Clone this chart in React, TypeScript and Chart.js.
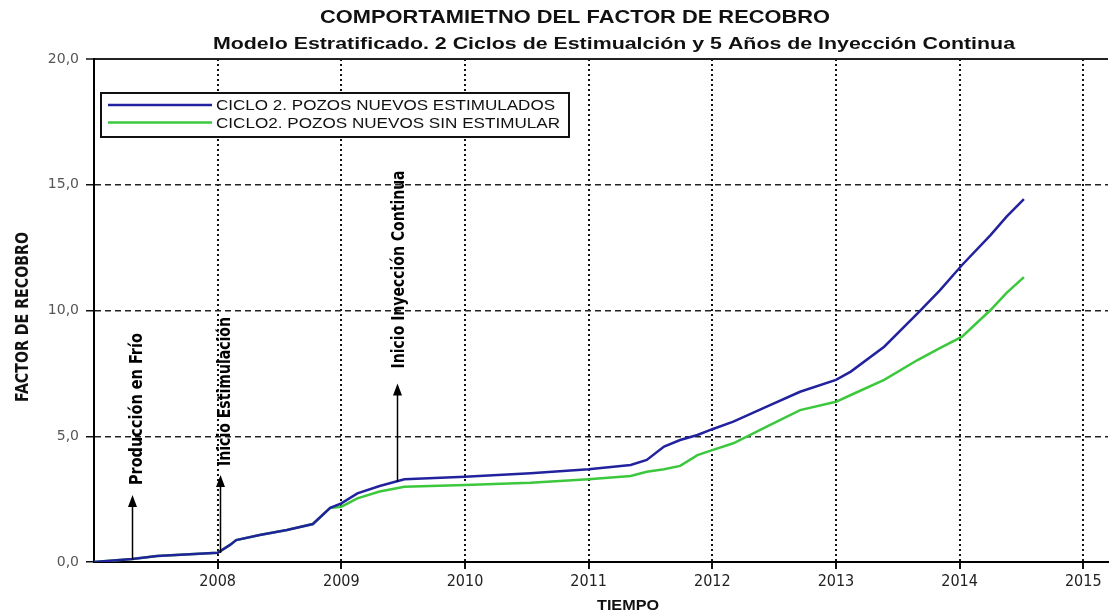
import React, { useEffect, useRef } from 'react';
import { Chart, registerables } from 'chart.js';

Chart.register(...registerables);

// ---------- data ----------
const TIME = [
  2007.0, 2007.31, 2007.51, 2008.0, 2008.1, 2008.15, 2008.34, 2008.56, 2008.77, 2008.91,
  2009.0, 2009.13, 2009.31, 2009.51, 2010.0, 2010.53, 2011.0, 2011.34, 2011.47, 2011.61,
  2011.74, 2011.88, 2012.0, 2012.17, 2012.44, 2012.71, 2013.0, 2013.12, 2013.39, 2013.66,
  2013.84, 2014.02, 2014.25, 2014.38, 2014.52,
];
const ESTIMULADOS = [
  0.0, 0.12, 0.24, 0.37, 0.68, 0.87, 1.07, 1.27, 1.51, 2.15,
  2.33, 2.73, 3.02, 3.29, 3.39, 3.53, 3.69, 3.86, 4.06, 4.59,
  4.85, 5.05, 5.28, 5.58, 6.18, 6.77, 7.24, 7.57, 8.56, 9.89,
  10.8, 11.81, 13.0, 13.73, 14.43,
];
const SIN_ESTIMULAR = [
  0.0, 0.12, 0.24, 0.37, 0.68, 0.87, 1.07, 1.27, 1.51, 2.15,
  2.2, 2.53, 2.8, 2.99, 3.06, 3.15, 3.29, 3.42, 3.59, 3.69,
  3.82, 4.25, 4.45, 4.72, 5.38, 6.04, 6.37, 6.64, 7.24, 8.03,
  8.5, 8.96, 10.02, 10.7, 11.33,
];
const SERIES_LABELS = ['CICLO 2. POZOS NUEVOS ESTIMULADOS', 'CICLO2. POZOS NUEVOS SIN ESTIMULAR'];
const X_TICKS = [2008, 2009, 2010, 2011, 2012, 2013, 2014, 2015];
const Y_TICKS = [0, 5, 10, 15, 20];
const TITLE = 'COMPORTAMIETNO DEL FACTOR DE RECOBRO';
const SUBTITLE = 'Modelo Estratificado. 2 Ciclos de Estimualción y 5 Años de Inyección Continua';
const X_TITLE = 'TIEMPO';
const Y_TITLE = 'FACTOR DE RECOBRO';
const EVENT_LABELS = ['Producción en Frío', 'Inicio Estimulación', 'Inicio Inyección Continua'];
const EVENT_TIME = [2007.31, 2008.02, 2009.45];
const EVENT_BASE = [0.1, 0.36, 3.19];
const EVENT_TIP = [2.66, 3.46, 7.1];

// ---------- styles ----------
const BLUE = '#22229e';
const GREEN = '#3cc83c';
const SANS = '"Liberation Sans", Arial, sans-serif';
const NARROW = '"Liberation Sans Narrow", "DejaVu Sans Condensed", "Arial Narrow", sans-serif';

function fitText(
  ctx: CanvasRenderingContext2D,
  text: string,
  cx: number,
  cy: number,
  width: number,
  size: number,
  family: string,
  weight: string,
  color: string,
  rot = 0,
) {
  ctx.save();
  ctx.font = `${weight} ${size}px ${family}`;
  ctx.fillStyle = color;
  ctx.textAlign = 'center';
  ctx.textBaseline = 'alphabetic';
  const m = ctx.measureText(text).width || 1;
  ctx.translate(cx, cy);
  if (rot) ctx.rotate(rot);
  ctx.scale(width / m, 1);
  ctx.fillText(text, 0, size * 0.36);
  ctx.restore();
}

const overlayPlugin = {
  id: 'overlay',
  afterDraw(chart: any) {
    const { ctx, scales } = chart;
    const xs = scales.x;
    const ys = scales.y;

    // titles
    fitText(ctx, TITLE, 575, 17, 510, 18, SANS, 'bold', '#111');
    fitText(ctx, SUBTITLE, 614, 43.5, 802, 16, SANS, 'bold', '#111');
    fitText(ctx, X_TITLE, 628, 605, 62, 15, SANS, 'bold', '#111');
    fitText(ctx, Y_TITLE, 22, 317, 170, 17, NARROW, 'bold', '#111', -Math.PI / 2);

    // legend
    ctx.save();
    ctx.fillStyle = '#fff';
    ctx.fillRect(101, 93, 468, 44);
    ctx.strokeStyle = '#111';
    ctx.lineWidth = 2;
    ctx.strokeRect(101, 93, 468, 44);
    const colors = [BLUE, GREEN];
    const rows = [105, 122.5];
    const widths = [339, 344];
    for (let i = 0; i < 2; i++) {
      ctx.strokeStyle = colors[i];
      ctx.lineWidth = 2.5;
      ctx.beginPath();
      ctx.moveTo(108, rows[i]);
      ctx.lineTo(212, rows[i]);
      ctx.stroke();
      const label = chart.data.datasets[i].label as string;
      fitText(ctx, label, 216 + widths[i] / 2, rows[i], widths[i], 15, SANS, 'normal', '#111');
    }
    ctx.restore();

    // event arrows
    const textLens = [152, 149, 198];
    const textGaps = [10, 9, 15];
    const textDx = [3, 3, 0];
    for (let i = 0; i < EVENT_LABELS.length; i++) {
      const px = Math.round(xs.getPixelForValue(EVENT_TIME[i])) + 0.5;
      const pBase = ys.getPixelForValue(EVENT_BASE[i]);
      const pTip = ys.getPixelForValue(EVENT_TIP[i]);
      ctx.save();
      ctx.strokeStyle = '#000';
      ctx.fillStyle = '#000';
      ctx.lineWidth = 1.5;
      ctx.beginPath();
      ctx.moveTo(px, pBase);
      ctx.lineTo(px, pTip + 10);
      ctx.stroke();
      ctx.beginPath();
      ctx.moveTo(px, pTip);
      ctx.lineTo(px - 4.5, pTip + 12);
      ctx.lineTo(px + 4.5, pTip + 12);
      ctx.closePath();
      ctx.fill();
      ctx.restore();
      const bottom = pTip - textGaps[i];
      fitText(
        ctx,
        EVENT_LABELS[i],
        px + textDx[i],
        bottom - textLens[i] / 2,
        textLens[i],
        17,
        NARROW,
        'bold',
        '#000',
        -Math.PI / 2,
      );
    }
  },
};

export default function App() {
  const ref = useRef<HTMLCanvasElement | null>(null);

  useEffect(() => {
    document.body.style.margin = '0';
    const canvas = ref.current;
    if (!canvas) return;
    const chart = new Chart(canvas, {
      type: 'line',
      data: {
        datasets: [
          {
            label: SERIES_LABELS[0],
            data: TIME.map((t, i) => ({ x: t, y: ESTIMULADOS[i] })),
            borderColor: BLUE,
            borderWidth: 2.5,
            pointRadius: 0,
            tension: 0,
            fill: false,
          },
          {
            label: SERIES_LABELS[1],
            data: TIME.map((t, i) => ({ x: t, y: SIN_ESTIMULAR[i] })),
            borderColor: GREEN,
            borderWidth: 2.5,
            pointRadius: 0,
            tension: 0,
            fill: false,
          },
        ],
      },
      options: {
        animation: false,
        responsive: true,
        maintainAspectRatio: false,
        layout: { padding: { left: 0, top: 59, right: 2, bottom: 0 } },
        plugins: {
          legend: { display: false },
          title: { display: false },
          tooltip: { enabled: false },
        },
        scales: {
          x: {
            type: 'linear',
            min: 2007,
            max: 2015.2,
            afterBuildTicks: (scale: any) => {
              scale.ticks = X_TICKS.map((v) => ({ value: v }));
            },
            afterFit: (scale: any) => {
              scale.height = 54;
            },
            ticks: {
              callback: (v: any) => String(v),
              font: { family: NARROW, size: 16 },
              color: '#222',
              padding: 3,
              maxRotation: 0,
              autoSkip: false,
            },
            grid: {
              color: '#111',
              lineWidth: 2,
              tickLength: 7,
              tickColor: '#111',
              tickWidth: 2,
            },
            border: { display: true, color: '#000', width: 2, dash: [2, 3] },
          },
          y: {
            type: 'linear',
            min: 0,
            max: 20,
            afterBuildTicks: (scale: any) => {
              scale.ticks = Y_TICKS.map((v) => ({ value: v }));
            },
            afterFit: (scale: any) => {
              scale.width = 94;
            },
            ticks: {
              callback: (v: any) => Number(v).toFixed(1).replace('.', ','),
              font: { family: '"DejaVu Sans", sans-serif', size: 14 },
              color: '#555',
              padding: 7,
            },
            grid: {
              color: (c: any) => (c.tick && c.tick.value === 0 ? 'rgba(0,0,0,0)' : '#222'),
              lineWidth: (c: any) => (c.tick && c.tick.value === 20 ? 2 : 1.5),
              tickLength: 8,
              tickColor: '#111',
              tickWidth: 1.5,
            },
            border: {
              display: true,
              color: '#000',
              width: 2,
              dash: (c: any) => (c.tick && c.tick.value === 20 ? [] : [6, 4]),
            },
          },
        },
      },
      plugins: [overlayPlugin],
    } as any);
    return () => chart.destroy();
  }, []);

  return (
    <div style={{ position: 'absolute', left: 0, top: 0, width: 1110, height: 616 }}>
      <canvas ref={ref} />
    </div>
  );
}
